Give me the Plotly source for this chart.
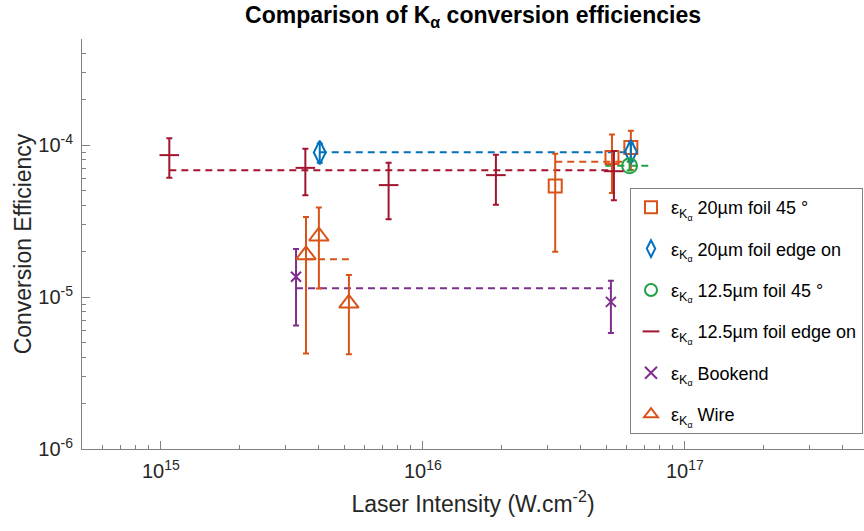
import numpy as np
import plotly.graph_objects as go

# ---------------- data ----------------
foil20_45_I = [3.20e16, 5.27e16, 6.22e16]
foil20_45_ce = [5.39e-5, 8.30e-5, 9.66e-5]
foil20_45_err = [3.4e-5, 3.45e-5, 2.8e-5]

foil20_edge_I = [4.04e15, 6.22e16]
foil20_edge_ce = [8.95e-5, 9.04e-5]
foil20_edge_err = [1.3e-5, 1.2e-5]

foil125_45_I = [6.15e16]
foil125_45_ce = [7.31e-5]
foil125_45_err = [5e-6]
foil125_45_line_I = [4.97e16, 7.29e16]

foil125_edge_I = [1.077e15, 3.56e15, 7.40e15, 1.90e16, 5.36e16]
foil125_edge_ce = [8.6e-5, 7.09e-5, 5.46e-5, 6.35e-5, 6.74e-5]
foil125_edge_err = [2.5e-5, 2.4e-5, 2.2e-5, 2.3e-5, 2.4e-5]

bookend_I = [3.28e15, 5.22e16]
bookend_ce = [1.36e-5, 9.3e-6]
bookend_err = [7.1e-6, 3.5e-6]

wire_I = [3.58e15, 4.01e15, 5.22e15]
wire_ce = [1.895e-5, 2.515e-5, 9.1e-6]
wire_err = [1.47e-5, 1.375e-5, 4.9e-6]

series_labels = ["20µm foil 45 °", "20µm foil edge on", "12.5µm foil 45 °",
                 "12.5µm foil edge on", "Bookend", "Wire"]

x_tick_vals = [1e15, 1e16, 1e17]
x_tick_text = ["10<sup>15</sup>", "10<sup>16</sup>", "10<sup>17</sup>"]
y_tick_vals = [1e-6, 1e-5, 1e-4]
y_tick_text = ["10<sup>-6</sup>", "10<sup>-5</sup>", "10<sup>-4</sup>"]

# ---------------- styling ----------------
ORANGE = "#D95319"
BLUE = "#0072BD"
GREEN = "#22A045"
CRIMSON = "#A2142F"
PURPLE = "#7E2F8E"
FONT = "Liberation Sans, Arial, sans-serif"
AXCOL = "#808080"

series = [
    (foil20_45_I, foil20_45_ce, foil20_45_err, None, ORANGE, "square-open", 13),
    (foil20_edge_I, foil20_edge_ce, foil20_edge_err, None, BLUE, "diamond-tall-open", 17),
    (foil125_45_I, foil125_45_ce, foil125_45_err, foil125_45_line_I, GREEN, "circle-open", 15),
    (foil125_edge_I, foil125_edge_ce, foil125_edge_err, None, CRIMSON, "line-ew-open", 14),
    (bookend_I, bookend_ce, bookend_err, None, PURPLE, "x-thin-open", 10),
    (wire_I, wire_ce, wire_err, None, ORANGE, "triangle-up-open", 17),
]

fig = go.Figure()

for i, (xs, ys, es, line_x, col, sym, size) in enumerate(series):
    mean_val = float(np.mean(ys))
    lx = line_x if line_x is not None else [min(xs), max(xs)]
    fig.add_trace(go.Scatter(
        x=lx, y=[mean_val, mean_val], mode="lines",
        line=dict(color=col, width=2, dash="7px,5px"),
        showlegend=False, hoverinfo="skip", legendgroup=f"g{i}"))

for i, (xs, ys, es, line_x, col, sym, size) in enumerate(series):
    fig.add_trace(go.Scatter(
        x=xs, y=ys, mode="markers",
        name="ε<sub>K<sub>α</sub></sub> " + series_labels[i],
        legendgroup=f"g{i}",
        marker=dict(symbol=sym, size=size, color=col, line=dict(color=col, width=2)),
        error_y=dict(type="data", array=es, symmetric=True, color=col,
                     thickness=2, width=3)))

minor_x = [m * 10 ** e for e in range(14, 18) for m in range(2, 10)]
minor_y = [m * 10 ** e for e in range(-6, -3) for m in range(2, 10)]

fig.update_layout(
    width=864, height=531,
    margin=dict(l=82, r=0, t=39, b=82, autoexpand=False),
    paper_bgcolor="white", plot_bgcolor="white",
    font=dict(family=FONT, color="#262626"),
    title=dict(text="<b>Comparison of K<sub>α</sub> conversion efficiencies</b>",
               x=0.5, xref="paper", xanchor="center", y=0.972, yanchor="middle",
               font=dict(size=23, color="black", family=FONT)),
    xaxis=dict(type="log", range=[np.log10(5e14), np.log10(5e14) + 782 / 262],
               tickvals=x_tick_vals, ticktext=x_tick_text,
               ticks="inside", ticklen=8, tickwidth=1, tickcolor=AXCOL,
               showline=True, linecolor=AXCOL, linewidth=1,
               showgrid=False, zeroline=False,
               tickfont=dict(size=20, color="#262626"), ticklabelstandoff=4,
               minor=dict(tickvals=minor_x, ticks="inside", ticklen=4,
                          tickcolor=AXCOL, showgrid=False),
               title=dict(text="Laser Intensity (W.cm<sup>-2</sup>)",
                          font=dict(size=23, color="#262626"), standoff=14)),
    yaxis=dict(type="log", range=[-6, np.log10(5e-4)],
               tickvals=y_tick_vals, ticktext=y_tick_text,
               ticks="inside", ticklen=8, tickwidth=1, tickcolor=AXCOL,
               showline=True, linecolor=AXCOL, linewidth=1,
               showgrid=False, zeroline=False,
               tickfont=dict(size=20, color="#262626"), ticklabelstandoff=4,
               minor=dict(tickvals=minor_y, ticks="inside", ticklen=4,
                          tickcolor=AXCOL, showgrid=False),
               title=dict(text="Conversion Efficiency",
                          font=dict(size=23, color="#262626"), standoff=0)),
    legend=dict(xref="container", yref="container",
                x=630 / 864, y=1 - 188 / 531, xanchor="left", yanchor="top",
                bgcolor="white", bordercolor=AXCOL, borderwidth=1,
                font=dict(size=18, color="black", family=FONT),
                tracegroupgap=15, itemsizing="constant", itemwidth=30),
)

fig.write_html(
    "out.html",
    config={"displayModeBar": False},
    post_script="document.body.style.margin='0';document.body.style.overflow='hidden';",
)
